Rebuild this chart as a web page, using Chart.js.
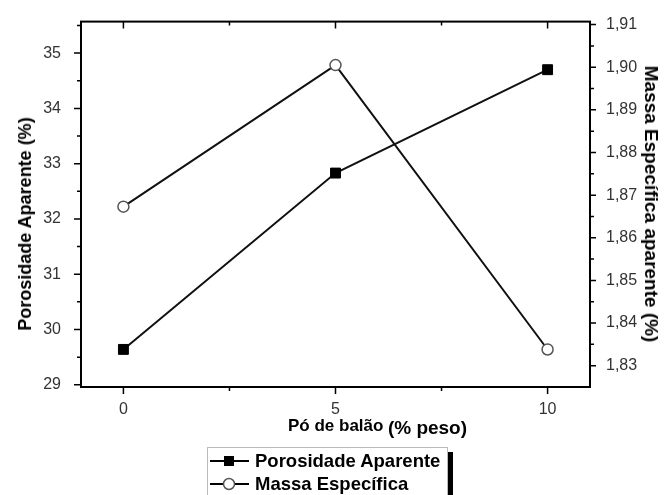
<!DOCTYPE html>
<html>
<head>
<meta charset="utf-8">
<script src="https://cdn.jsdelivr.net/npm/chart.js@4"></script>
<style>
    body { margin: 0; background: #fff; }
    #wrap { position: relative; width: 664px; height: 495px; overflow: hidden; font-family: "Liberation Sans", Arial, sans-serif; }
    .yTitle { position: absolute; font-weight: bold; color: #000; white-space: nowrap; line-height: 20px; height: 20px; }
    #yTitleL { font-size: 18px; left: 25px; top: 224px; transform: translate(-50%, -50%) rotate(-90deg); }
    #yTitleR { font-size: 19px; left: 651px; top: 204px; transform: translate(-50%, -50%) rotate(90deg); }
    #xTitle { position: absolute; left: 288px; top: 414px; font-weight: bold; color: #000; white-space: nowrap; }
    #xTitle .a { font-size: 17px; }
    #xTitle .b { font-size: 19px; position: relative; top: 3px; }
    #legend { position: absolute; left: 207px; top: 447px; width: 241px; height: 60px; border: 1px solid #bbb; background: #fff; box-sizing: border-box; }
    #legendBar { position: absolute; left: 448px; top: 452px; width: 5px; height: 50px; background: #000; }
    .row { position: absolute; left: 2px; height: 22px; display: flex; align-items: center; font-weight: bold; font-size: 18.5px; color: #000; white-space: nowrap; }
    .row svg { margin-right: 6px; }
</style>
</head>
<body>
<div id="wrap">
    <canvas id="chart" width="664" height="495"></canvas>
    <div class="yTitle" id="yTitleL">Porosidade Aparente (%)</div>
    <div class="yTitle" id="yTitleR">Massa Específica aparente (%)</div>
    <div id="xTitle"><span class="a">Pó de balão</span> <span class="b">(% peso)</span></div>
    <div id="legend">
        <div class="row" style="top:2px">
            <svg width="39" height="14"><line x1="0" y1="7" x2="39" y2="7" stroke="#000" stroke-width="2"/><rect x="14" y="2" width="10" height="10" fill="#000"/></svg>
            Porosidade Aparente
        </div>
        <div class="row" style="top:25px">
            <svg width="39" height="14"><line x1="0" y1="7" x2="39" y2="7" stroke="#000" stroke-width="2"/><circle cx="19" cy="7" r="5.5" fill="#fff" stroke="#555" stroke-width="1.5"/></svg>
            Massa Específica
        </div>
    </div>
    <div id="legendBar"></div>
</div>
<script>
const powderPct = [0, 5, 10];
const porosity = [29.64, 32.83, 34.70];
const density = [1.8673, 1.9005, 1.8338];
const xMajor = [0, 5, 10];
const xMinor = [2.5, 7.5];

// frame + tick marks (major / minor), drawn through the scales
const framePlugin = {
    id: 'frame',
    afterDraw(chart) {
        const {ctx, chartArea: a, scales} = chart;
        ctx.save();
        ctx.strokeStyle = '#000';
        ctx.lineWidth = 1.5;
        ctx.beginPath();
        const tick = (x1, y1, x2, y2) => { ctx.moveTo(x1, y1); ctx.lineTo(x2, y2); };
        for (let v = 29; v <= 35.5; v += 0.5) {
            const y = scales.y.getPixelForValue(v);
            const len = Number.isInteger(v) ? 7 : 4;
            tick(a.left, y, a.left - len, y);
        }
        for (let i = 0; i <= 16; i++) {
            const v = 1.83 + i * 0.005;
            const y = scales.y1.getPixelForValue(v);
            const len = i % 2 === 0 ? 6 : 4;
            tick(a.right, y, a.right + len, y);
        }
        xMajor.forEach(v => {
            const x = scales.x.getPixelForValue(v);
            tick(x, a.bottom, x, a.bottom + 7);
            tick(x, a.top, x, a.top + 7);
        });
        xMinor.forEach(v => {
            const x = scales.x.getPixelForValue(v);
            tick(x, a.bottom, x, a.bottom + 4);
            tick(x, a.top, x, a.top + 4);
        });
        ctx.stroke();
        ctx.lineWidth = 2;
        ctx.strokeRect(a.left, a.top, a.right - a.left, a.bottom - a.top);
        ctx.restore();
    }
};

const tickFont = { family: '"Liberation Sans", Arial, sans-serif', size: 16 };

new Chart(document.getElementById('chart').getContext('2d'), {
    type: 'line',
    data: {
        datasets: [{
            label: 'Porosidade Aparente',
            data: powderPct.map((x, i) => ({ x: x, y: porosity[i] })),
            yAxisID: 'y',
            borderColor: '#111',
            borderWidth: 2,
            pointStyle: 'rect',
            pointRadius: 7,
            pointBackgroundColor: '#000',
            pointBorderColor: '#000',
            pointBorderWidth: 1
        }, {
            label: 'Massa Específica',
            data: powderPct.map((x, i) => ({ x: x, y: density[i] })),
            yAxisID: 'y1',
            borderColor: '#111',
            borderWidth: 2,
            pointStyle: 'circle',
            pointRadius: 5.5,
            pointBackgroundColor: '#fff',
            pointBorderColor: '#555',
            pointBorderWidth: 1.5
        }]
    },
    options: {
        responsive: false,
        animation: false,
        layout: { padding: { top: 16 } },
        plugins: { legend: { display: false }, tooltip: { enabled: false } },
        scales: {
            x: {
                type: 'linear',
                min: -1,
                max: 11,
                afterFit: s => { s.height = 108; },
                grid: { display: false },
                border: { display: false },
                ticks: { stepSize: 5, includeBounds: false, padding: 5, color: '#333', font: tickFont }
            },
            y: {
                position: 'left',
                min: 28.96,
                max: 35.57,
                afterFit: s => { s.width = 81; },
                grid: { display: false },
                border: { display: false },
                ticks: { stepSize: 1, includeBounds: false, padding: 12, color: '#333', font: tickFont }
            },
            y1: {
                position: 'right',
                min: 1.825,
                max: 1.9107,
                afterFit: s => { s.width = 74; },
                grid: { display: false },
                border: { display: false },
                ticks: {
                    stepSize: 0.01,
                    includeBounds: false,
                    padding: 8,
                    color: '#333',
                    font: tickFont,
                    callback: v => v.toFixed(2).replace('.', ',')
                }
            }
        }
    },
    plugins: [framePlugin]
});
</script>
</body>
</html>
